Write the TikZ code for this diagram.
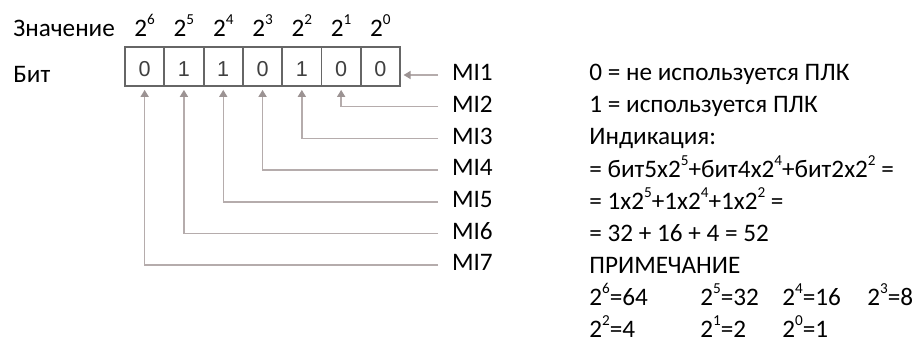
\documentclass[tikz,border=0pt]{standalone}
\usepackage{fontspec}
\setmainfont{Carlito}
\newfontfamily\digitfont{Liberation Sans}
\usetikzlibrary{arrows.meta}
\definecolor{boxgray}{HTML}{666666}
\definecolor{linkgray}{HTML}{B5ACAC}
\definecolor{tipgray}{HTML}{9C9393}
\definecolor{bitgray}{HTML}{404040}
\newcommand\pw[1]{\raisebox{5.8pt}{\fontsize{7.6}{8}\selectfont#1}}

\begin{document}
\begin{tikzpicture}[x=0.5pt, y=-0.5pt,
    every node/.style={font=\fontsize{12.6}{15}\selectfont},
    cell/.style={draw=boxgray, line width=0.9pt, minimum width=19.65pt, minimum height=19.5pt,
        inner sep=0pt, text=bitgray, text height=10pt, text depth=0pt,
        font=\digitfont\fontsize{10.8}{12}\selectfont},
    txt/.style={anchor=base west, inner sep=0pt},
    milabel/.style={anchor=west, inner xsep=6.85pt, inner ysep=0pt, text height=8.1pt, text depth=2.4pt},
    link/.style={draw=linkgray, line width=0.75pt,
        -{Triangle[width=4pt, length=3.5pt, color=tipgray]}, shorten >=1.5pt}]

    \fill[white] (0,0) rectangle (923,343);
    \useasboundingbox (0,0) rectangle (923,343);

    % register
    \foreach \b [count=\i from 0] in {0,1,1,0,1,0,0}
        \node[cell] (c\i) at ({144.65+39.3*\i},66.5) {\b};

    \node[txt] (val) at (13,36) {Значение};
    \node[txt] (bit) at (13,82) {Бит};
    \foreach \e [count=\i from 0] in {6,5,4,3,2,1,0}
        \node[anchor=base, inner sep=0pt] (p\i) at (c\i.center |- val.base) {2\pw{\e}};

    % MI
    \foreach \k in {1,...,7}
        \node[milabel] (mi\k) at (438,{75+31.7*(\k-1)}) {MI\k};

    \draw[link, shorten >=1.3pt] (mi1.west) -- (mi1.west -| c6.east);
    \foreach \k/\c in {2/5,3/4,4/3,5/2,6/1,7/0}
        \draw[link] (mi\k.west) -| (c\c.south);

    % notes
    \node[txt] (n1) at (589,80.7) {0 = не используется ПЛК};
    \node[txt] (n2) at (589,112.8) {1 = используется ПЛК};
    \node[txt] (n3) at (589,144.9) {Индикация:};
    \node[txt] (n4) at (589,177) {= бит5x2\pw{5}+бит4x2\pw{4}+бит2x2\pw{2} =};
    \node[txt] (n5) at (589,209.1) {= 1x2\pw{5}+1x2\pw{4}+1x2\pw{2} =};
    \node[txt] (n6) at (589,241.2) {= 32 + 16 + 4 = 52};
    \node[txt] (n7) at (589,273.3) {ПРИМЕЧАНИЕ};

    \node[txt] (w6) at (589,305.4) {2\pw{6}=64};
    \node[txt] (w5) at (700,305.4) {2\pw{5}=32};
    \node[txt] (w4) at (782,305.4) {2\pw{4}=16};
    \node[txt] (w3) at (867,305.4) {2\pw{3}=8};
    \node[txt] (w2) at (589,337.5) {2\pw{2}=4};
    \node[txt] (w1) at (700,337.5) {2\pw{1}=2};
    \node[txt] (w0) at (782,337.5) {2\pw{0}=1};
\end{tikzpicture}
\end{document}
